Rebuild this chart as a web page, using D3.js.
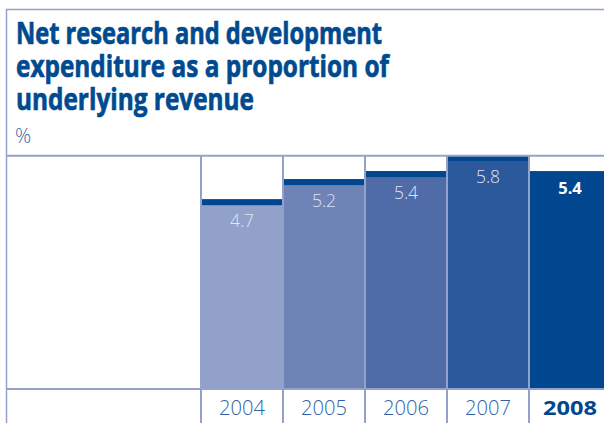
<!DOCTYPE html>
<html>
<head>
<meta charset="utf-8">
<script src="https://cdn.jsdelivr.net/npm/d3@7/dist/d3.min.js"></script>
<style>
  html, body { margin: 0; padding: 0; background: #fff; }
  svg { display: block; }
</style>
</head>
<body>
<script>
// R&D spend as % of underlying revenue, by year
const years = ["2004", "2005", "2006", "2007", "2008"];
const values = [4.7, 5.2, 5.4, 5.8, 5.4];
const barColors = ["#91a1ca", "#6e83b6", "#4f6ba8", "#2b599b", "#00478f"];
const titleLines = ["Net research and development", "expenditure as a proportion of", "underlying revenue"];
const unitLabel = "%";

const W = 604, H = 423;
const frame = "#93a2cd";
const dark = "#00478f";

const svg = d3.select("body").append("svg").attr("width", W).attr("height", H);

// title block: one text element, one tspan per line
const titleWidths = [366, 373, 238];
const title = svg.append("text")
  .attr("fill", "#004a8f")
  .attr("stroke", "#004a8f")
  .attr("stroke-width", 0.7)
  .attr("font-family", "Open Sans, sans-serif")
  .attr("font-weight", 700)
  .attr("font-size", 30.5);
titleLines.forEach((t, i) => {
  title.append("tspan")
    .attr("x", 16).attr("y", 43.5 + i * 33.3)
    .attr("textLength", titleWidths[i])
    .attr("lengthAdjust", "spacingAndGlyphs")
    .text(t);
});
svg.append("text")
  .attr("x", 15).attr("y", 143)
  .attr("fill", "#3a66a8")
  .attr("font-family", "Open Sans, sans-serif")
  .attr("font-weight", 300)
  .attr("font-size", 20)
  .text(unitLabel);

// scales
const x = d3.scaleBand().domain(years).range([201, 611]).padding(0);
const y = d3.scaleLinear().domain([0, 5.8]).range([388, 155]);

// bars
const bars = svg.append("g");
years.forEach((yr, i) => {
  const v = values[i];
  const last = i === years.length - 1;
  bars.append("rect")
    .attr("x", x(yr)).attr("y", y(v))
    .attr("width", x.bandwidth()).attr("height", y(0) - y(v))
    .attr("fill", barColors[i]);
  if (!last) {
    bars.append("rect")
      .attr("x", x(yr)).attr("y", y(v))
      .attr("width", x.bandwidth()).attr("height", 6)
      .attr("fill", dark);
  }
  bars.append("text")
    .attr("x", x(yr) + x.bandwidth() / 2)
    .attr("y", y(v) + (last ? 23.3 : 28.3))
    .attr("text-anchor", "middle")
    .attr("fill", last ? "#ffffff" : "#dfe5f1")
    .attr("font-family", "Open Sans, sans-serif")
    .attr("font-weight", last ? 700 : 300)
    .attr("font-size", last ? 16.5 : 17.5)
    .text(v.toFixed(1));
});

// frame lines
const lines = svg.append("g").attr("stroke", frame).attr("fill", "none");
lines.append("line").attr("x1", 6).attr("x2", W).attr("y1", 9.5).attr("y2", 9.5).attr("stroke-width", 1.5);
lines.append("line").attr("x1", 6.5).attr("x2", 6.5).attr("y1", 9).attr("y2", H).attr("stroke-width", 1.5);
lines.append("line").attr("x1", 6).attr("x2", W).attr("y1", 155.8).attr("y2", 155.8).attr("stroke-width", 2);
lines.append("line").attr("x1", 6).attr("x2", W).attr("y1", 389).attr("y2", 389).attr("stroke-width", 2);
years.forEach(yr => {
  lines.append("line")
    .attr("x1", x(yr)).attr("x2", x(yr))
    .attr("y1", 155).attr("y2", H)
    .attr("stroke-width", 2);
});

// year axis labels
const xAxis = d3.axisBottom(x).tickSize(0).tickPadding(0);
const ax = svg.append("g").attr("transform", "translate(0,414.5)").call(xAxis);
ax.select(".domain").remove();
ax.selectAll("text")
  .attr("dy", 0).attr("y", 0)
  .attr("fill", (d, i) => i === years.length - 1 ? "#00478f" : "#2f62a6")
  .attr("font-family", "Open Sans, sans-serif")
  .attr("font-weight", (d, i) => i === years.length - 1 ? 700 : 300)
  .attr("font-size", (d, i) => i === years.length - 1 ? 19 : 20)
  .attr("textLength", (d, i) => i === years.length - 1 ? 54 : 46)
  .attr("lengthAdjust", "spacingAndGlyphs");
</script>
</body>
</html>
